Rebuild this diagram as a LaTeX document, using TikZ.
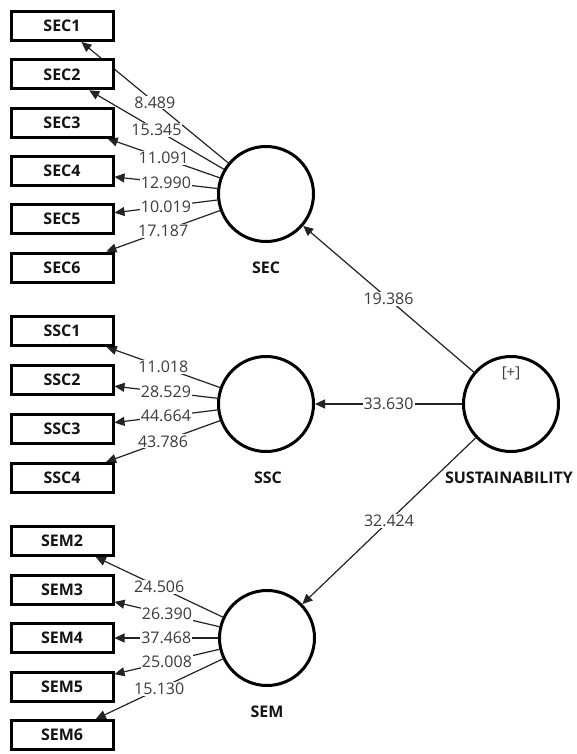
\documentclass[tikz,border=0pt]{standalone}
\usepackage{fontspec}
\setmainfont{Open Sans}
\usetikzlibrary{arrows.meta,backgrounds}
\definecolor{lbl}{RGB}{60,60,60}
\definecolor{ln}{RGB}{35,35,35}
\definecolor{txt}{RGB}{20,20,20}
\begin{document}
\begin{tikzpicture}[x=1pt,y=-1pt,
  ind/.style={draw=black, line width=3pt, fill=white, minimum width=102pt, minimum height=29pt, inner sep=0pt, font=\fontsize{16}{19}\selectfont\bfseries, text=txt},
  lat/.style={draw=black, line width=3pt, fill=white, circle, minimum size=95pt, inner sep=0pt},
  latname/.style={font=\fontsize{16}{19}\selectfont\bfseries, text=txt},
  wt/.style={fill=white, inner sep=1pt, text=lbl, font=\fontsize{16}{19}\selectfont},
  conn/.style={draw=ln, line width=1.2pt, -{Triangle[length=10pt,width=9pt]}},
]
\useasboundingbox (0,0) rectangle (576,754);

% latent variables
\node[lat] (sec) at (266,194) {};
\node[lat] (ssc) at (266,404) {};
\node[lat] (sem) at (267,638) {};
\node[lat] (sus) at (511,404) {};
\node[font=\fontsize{15}{17}\selectfont, text=lbl] (plus) at (511,373) {[+]};
\node[latname] (seccap) at (266,268) {SEC};
\node[latname] (ssccap) at (268,478) {SSC};
\node[latname] (semcap) at (267,712) {SEM};
\node[latname] (suscap) at (509,478) {SUSTAINABILITY};

% indicators
\node[ind] (sec1) at (62,26) {SEC1};
\node[ind] (sec2) at (62,74.3) {SEC2};
\node[ind] (sec3) at (62,122.6) {SEC3};
\node[ind] (sec4) at (62,170.9) {SEC4};
\node[ind] (sec5) at (62,219.2) {SEC5};
\node[ind] (sec6) at (62,267.5) {SEC6};

\node[ind] (ssc1) at (62,331) {SSC1};
\node[ind] (ssc2) at (62,380) {SSC2};
\node[ind] (ssc3) at (62,429) {SSC3};
\node[ind] (ssc4) at (62,478) {SSC4};

\node[ind] (sem2) at (62,541) {SEM2};
\node[ind] (sem3) at (62,589.5) {SEM3};
\node[ind] (sem4) at (62,638) {SEM4};
\node[ind] (sem5) at (62,686.5) {SEM5};
\node[ind] (sem6) at (62,735) {SEM6};

\begin{pgfonlayer}{background}
% connectors
\draw[conn] (sec) -- (sec1);
\draw[conn] (sec) -- (sec2);
\draw[conn] (sec) -- (sec3);
\draw[conn] (sec) -- (sec4);
\draw[conn] (sec) -- (sec5);
\draw[conn] (sec) -- (sec6);
\draw[conn] (ssc) -- (ssc1);
\draw[conn] (ssc) -- (ssc2);
\draw[conn] (ssc) -- (ssc3);
\draw[conn] (ssc) -- (ssc4);
\draw[conn] (sem) -- (sem2);
\draw[conn] (sem) -- (sem3);
\draw[conn] (sem) -- (sem4);
\draw[conn] (sem) -- (sem5);
\draw[conn] (sem) -- (sem6);
\draw[conn] (sus) -- (sec);
\draw[conn] (sus) -- (ssc);
\draw[conn] (sus) -- (sem);
% weights
\path (sec) -- (sec1) node[wt, midway] {8.489};
\path (sec) -- (sec2) node[wt, midway] {15.345};
\path (sec) -- (sec3) node[wt, midway] {11.091};
\path (sec) -- (sec4) node[wt, midway] {12.990};
\path (sec) -- (sec5) node[wt, midway] {10.019};
\path (sec) -- (sec6) node[wt, midway] {17.187};
\path (ssc) -- (ssc1) node[wt, midway] {11.018};
\path (ssc) -- (ssc2) node[wt, midway] {28.529};
\path (ssc) -- (ssc3) node[wt, midway] {44.664};
\path (ssc) -- (ssc4) node[wt, midway] {43.786};
\path (sem) -- (sem2) node[wt, midway] {24.506};
\path (sem) -- (sem3) node[wt, midway] {26.390};
\path (sem) -- (sem4) node[wt, midway] {37.468};
\path (sem) -- (sem5) node[wt, midway] {25.008};
\path (sem) -- (sem6) node[wt, midway] {15.130};
\path (sus) -- (sec) node[wt, midway] {19.386};
\path (sus) -- (ssc) node[wt, midway] {33.630};
\path (sus) -- (sem) node[wt, midway] {32.424};
\end{pgfonlayer}
\end{tikzpicture}
\end{document}
